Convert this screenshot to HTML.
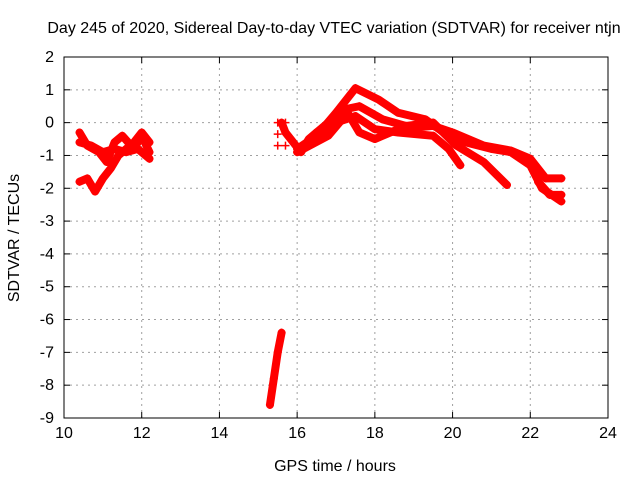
<!DOCTYPE html>
<html><head><meta charset="utf-8"><style>
body{margin:0;background:#fff}
svg text{font-family:"Liberation Sans",sans-serif;font-size:14px;fill:#000}
svg text.big{font-size:16px}
</style></head><body>
<svg id="chart" width="640" height="480"></svg>
<script>
const xTicks=[10,12,14,16,18,20,22,24];
const yTicks=[2,1,0,-1,-2,-3,-4,-5,-6,-7,-8,-9];
const trackL1=[[10.4,-0.3],[10.6,-0.7],[10.9,-0.9],[11.1,-1.2],[11.3,-0.6],[11.5,-0.4],[11.8,-0.8],[12.0,-0.4],[12.2,-0.9]];
const trackL2=[[10.4,-1.8],[10.6,-1.7],[10.8,-2.1],[11.0,-1.7],[11.2,-1.4],[11.4,-1.0],[11.6,-0.8],[11.8,-0.6],[12.0,-0.3],[12.2,-0.6]];
const trackL3=[[10.4,-0.6],[10.7,-0.7],[11.0,-0.9],[11.3,-0.8],[11.6,-0.9],[11.9,-0.8],[12.2,-1.1]];
const trackV=[[15.3,-8.6],[15.4,-7.8],[15.5,-7.0],[15.6,-6.4]];
const trackA=[[16.0,-0.8],[16.5,-0.4],[17.0,0.3],[17.5,1.05],[18.1,0.7],[18.6,0.3],[19.3,0.1],[20.0,-0.5],[21.0,-0.8],[21.5,-0.9],[22.0,-1.3],[22.3,-2.0],[22.8,-2.4]];
const trackB=[[16.5,-0.3],[17.2,0.4],[17.6,0.5],[18.2,0.1],[18.8,-0.1],[19.5,0.0],[20.1,-0.7],[20.8,-1.2],[21.4,-1.9]];
const trackC=[[16.3,-0.6],[17.0,0.0],[17.5,0.2],[18.0,-0.2],[18.6,-0.3],[19.5,-0.4],[19.9,-0.8],[20.2,-1.3]];
const trackD=[[16.0,-0.9],[16.8,-0.4],[17.3,0.3],[17.6,-0.3],[18.0,-0.5],[18.6,-0.2],[19.5,-0.1],[20.0,-0.3],[20.8,-0.7],[21.5,-0.85],[22.0,-1.1],[22.4,-1.7],[22.8,-1.7]];
const trackE=[[15.6,0.0],[15.7,-0.3],[15.9,-0.6],[16.1,-0.9],[16.3,-0.5],[16.5,-0.3]];
const trackF=[[22.2,-1.8],[22.5,-2.2],[22.8,-2.2]];
const isolated=[[15.5,0.0],[15.5,-0.35],[15.5,-0.7],[15.7,0.0],[15.7,-0.7]];
const tracks=[trackL1,trackL2,trackL3,trackV,trackA,trackB,trackC,trackD,trackE,trackF];

const X0=64,X1=608,Y0=418,Y1=57;
const sx=t=>X0+(t-10)/(24-10)*(X1-X0);
const sy=v=>Y0-(v+9)/(2+9)*(Y0-Y1);
const svg=document.getElementById('chart');
const NS='http://www.w3.org/2000/svg';
function mk(tag,attrs,txt){const e=document.createElementNS(NS,tag);for(const k in attrs)e.setAttribute(k,attrs[k]);if(txt!==undefined)e.textContent=txt;svg.appendChild(e);return e;}

xTicks.forEach(t=>{
  const x=sx(t);
  if(t>10&&t<24){const g=mk('line',{x1:x,x2:x,y1:Y0,y2:Y1,stroke:'#a0a0a0','stroke-dasharray':'2,4'});
  
  }
  mk('line',{x1:x,x2:x,y1:Y0,y2:Y0-6,stroke:'#000'});
  mk('line',{x1:x,x2:x,y1:Y1,y2:Y1+6,stroke:'#000'});
  const l=mk('text',{x:x,y:Y0+20,'text-anchor':'middle',class:'big'},String(t));
  
  
});
yTicks.forEach(v=>{
  const y=sy(v);
  if(v<2&&v>-9){const g=mk('line',{x1:X0,x2:X1,y1:y,y2:y,stroke:'#a0a0a0','stroke-dasharray':'2,4'});
  
  }
  mk('line',{x1:X0,x2:X0+6,y1:y,y2:y,stroke:'#000'});
  mk('line',{x1:X1,x2:X1-6,y1:y,y2:y,stroke:'#000'});
  const l=mk('text',{x:X0-10,y:y+5,'text-anchor':'end',class:'big'},String(v));
  
  
});
const frame=mk('rect',{x:X0,y:Y1,width:X1-X0,height:Y0-Y1,fill:'none',stroke:'#000'});



tracks.forEach(tr=>{
  const p=mk('polyline',{points:tr.map(d=>sx(d[0])+','+sy(d[1])).join(' '),fill:'none',stroke:'#ff0000','stroke-width':8,'stroke-linejoin':'round','stroke-linecap':'round'});
  
  
});
tracks.concat([isolated]).forEach(tr=>tr.forEach(d=>{
  const x=sx(d[0]),y=sy(d[1]);
  const m=mk('path',{d:`M${x-4},${y}H${x+4}M${x},${y-4}V${y+4}`,stroke:'#ff0000','stroke-width':1.5});
  
  
}));

const title=mk('text',{x:334,y:33,'text-anchor':'middle',class:'big'},'Day 245 of 2020, Sidereal Day-to-day VTEC variation (SDTVAR) for receiver ntjn');


const xt=mk('text',{x:335,y:471,'text-anchor':'middle',class:'big'},'GPS time / hours');


const yt=mk('text',{x:0,y:0,'text-anchor':'middle',class:'big',transform:'translate(19,238) rotate(-90)'},'SDTVAR / TECUs');


</script>
</body></html>
